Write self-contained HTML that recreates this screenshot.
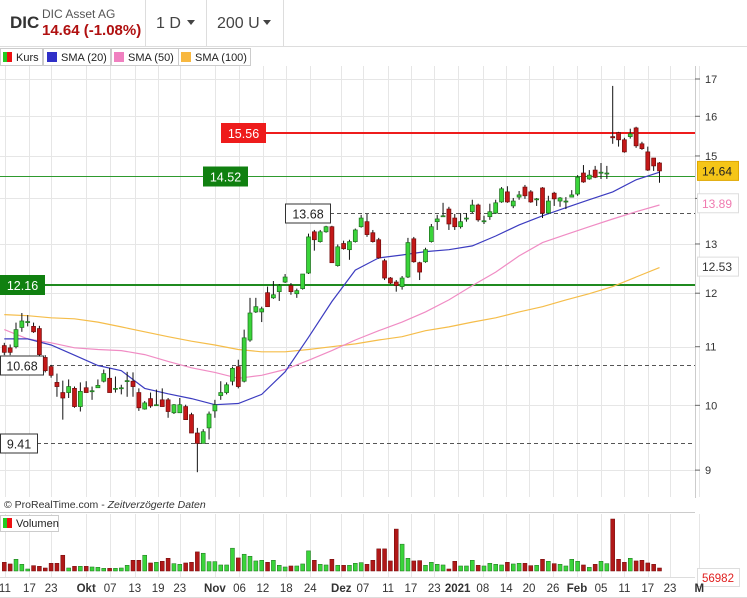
<!DOCTYPE html>
<html><head><meta charset="utf-8"><style>
html,body{margin:0;padding:0;background:#fff;width:747px;height:598px;overflow:hidden;font-family:"Liberation Sans",sans-serif}
svg text{font-family:"Liberation Sans",sans-serif}
</style></head><body>
<svg id="chart" width="747" height="598" viewBox="0 0 747 598" xmlns="http://www.w3.org/2000/svg">
<g>
<rect x="0" y="0" width="747" height="46" fill="#fff"/>
<line x1="0" y1="46.5" x2="747" y2="46.5" stroke="#ddd"/>
<text x="10" y="28" font-size="17" font-weight="bold" fill="#333">DIC</text>
<text x="42" y="18" font-size="12" fill="#555">DIC Asset AG</text>
<text x="42" y="35" font-size="15" font-weight="bold" fill="#b01010">14.64 (-1.08%)</text>
<line x1="145.5" y1="0" x2="145.5" y2="46" stroke="#ddd"/>
<line x1="206.5" y1="0" x2="206.5" y2="46" stroke="#ddd"/>
<line x1="283.5" y1="0" x2="283.5" y2="46" stroke="#ddd"/>
<g><text x="156" y="28" font-size="16" fill="#444">1 D</text><path d="M187 20 l8 0 l-4 5z" fill="#444"/></g>
<g><text x="217" y="28" font-size="16" fill="#444">200 U</text><path d="M263 20 l8 0 l-4 5z" fill="#444"/></g>
</g>
<g id="grid"></g>
<g>
<rect x="0.5" y="48.5" width="42" height="17" fill="#fff" stroke="#ccc"/>
<rect x="3" y="52" width="4" height="10" fill="#22cc22"/><rect x="7" y="52" width="5" height="10" fill="#ee1111"/>
<text x="16" y="61" font-size="11" fill="#222">Kurs</text>
<rect x="43.5" y="48.5" width="67" height="17" fill="#fff" stroke="#ccc"/>
<rect x="47" y="52" width="10" height="10" fill="#3030c8"/><text x="61" y="61" font-size="11" fill="#222">SMA (20)</text>
<rect x="111.5" y="48.5" width="67" height="17" fill="#fff" stroke="#ccc"/>
<rect x="114" y="52" width="10" height="10" fill="#f080c0"/><text x="128" y="61" font-size="11" fill="#222">SMA (50)</text>
<rect x="178.5" y="48.5" width="72" height="17" fill="#fff" stroke="#ccc"/>
<rect x="181" y="52" width="10" height="10" fill="#f8b840"/><text x="195" y="61" font-size="11" fill="#222">SMA (100)</text>
</g>
<g id="levels"></g>
<g id="smas"></g>
<g id="candles"></g>
<g id="yaxis"></g>
<line x1="0" y1="512.5" x2="695" y2="512.5" stroke="#ccc"/>
<text x="4" y="508" font-size="10.5" fill="#333">© ProRealTime.com - <tspan font-style="italic">Zeitverzögerte Daten</tspan></text>
<g>
<rect x="0.5" y="515.5" width="58" height="16" fill="#fff" stroke="#ccc"/>
<rect x="3" y="518" width="4" height="10" fill="#22cc22"/><rect x="7" y="518" width="5" height="10" fill="#ee1111"/>
<text x="16" y="527" font-size="11" fill="#222">Volumen</text>
</g>
<g id="volume"></g>
<g>
<rect x="697.5" y="568.5" width="42" height="18" fill="#fff" stroke="#ddd"/>
<text x="702" y="582" font-size="11.5" fill="#e02020">56982</text>
</g>
<g id="xaxis"></g>
</svg>
<script>
const opens=[11.02,10.98,11.00,11.35,11.44,11.37,11.33,10.81,10.65,10.38,10.21,10.21,10.28,9.98,10.29,10.24,10.29,10.40,10.45,10.28,10.29,10.41,10.40,10.21,9.94,10.11,10.01,10.09,10.09,9.88,9.88,9.98,9.85,9.56,9.40,9.64,9.91,10.16,10.21,10.40,10.65,10.40,11.12,11.64,11.64,12.01,11.91,12.03,12.22,12.15,11.99,12.09,12.40,13.26,13.05,13.26,13.37,12.55,13.01,12.88,13.05,13.37,13.48,13.24,13.09,12.65,12.30,12.22,12.13,12.32,13.11,12.61,12.63,13.05,13.48,13.61,13.76,13.56,13.37,13.56,13.70,13.85,13.50,13.59,13.67,13.92,14.15,13.83,14.03,14.26,14.15,13.99,14.24,13.67,14.12,13.94,13.94,14.03,14.10,14.59,14.45,14.66,14.61,14.59,15.48,15.58,15.40,15.48,15.70,15.30,15.10,14.95,14.83];
const closes=[10.90,10.90,11.31,11.47,11.46,11.27,10.86,10.58,10.50,10.31,10.12,10.31,9.98,10.23,10.21,10.24,10.33,10.53,10.21,10.28,10.29,10.41,10.31,9.96,10.04,9.99,10.01,9.98,9.90,10.01,10.01,9.77,9.56,9.40,9.58,9.86,10.01,10.21,10.34,10.62,10.31,11.16,11.62,11.74,11.70,11.74,11.97,12.15,12.32,12.03,12.05,12.38,13.15,13.09,13.26,13.37,12.61,12.94,12.90,13.05,13.30,13.56,13.20,13.05,12.71,12.30,12.20,12.15,12.30,13.03,12.63,12.42,12.88,13.37,13.54,13.61,13.43,13.37,13.48,13.56,13.85,13.52,13.50,13.70,13.90,14.22,13.92,13.94,14.08,14.06,13.92,13.99,13.67,13.94,13.99,14.01,13.94,14.08,14.49,14.38,14.54,14.49,14.61,14.59,15.45,15.40,15.10,15.55,15.25,15.18,14.66,14.76,14.64];
const highs=[11.07,11.04,11.44,11.62,11.58,11.44,11.38,10.85,10.68,10.53,10.41,10.43,10.31,10.38,10.40,10.31,10.43,10.60,10.63,10.48,10.34,10.56,10.55,10.28,10.07,10.21,10.26,10.28,10.12,10.02,10.12,10.01,9.88,9.64,9.62,9.90,10.09,10.40,10.38,10.65,10.77,11.31,11.91,11.91,11.74,12.13,12.24,12.18,12.38,12.20,12.09,12.38,13.22,13.30,13.30,13.39,13.39,12.99,13.07,13.09,13.33,13.63,13.65,13.30,13.13,12.69,12.32,12.26,12.34,13.13,13.15,12.63,12.92,13.43,13.63,13.90,13.81,13.65,13.67,13.67,13.97,13.88,13.61,13.88,13.97,14.26,14.28,14.01,14.17,14.31,14.19,14.01,14.26,14.06,14.15,14.03,14.03,14.19,14.54,14.78,14.66,14.76,14.83,14.76,16.81,15.60,15.45,15.68,15.73,15.35,15.23,14.95,14.85];
const lows=[10.85,10.85,10.97,11.27,11.37,11.25,10.83,10.55,10.46,10.14,9.77,10.12,9.96,9.90,10.21,10.09,10.29,10.38,10.21,10.21,10.18,10.14,10.14,9.91,9.93,9.96,9.99,9.98,9.80,9.86,9.88,9.77,9.56,8.97,9.40,9.46,9.80,10.09,10.18,10.33,10.28,10.38,11.09,11.62,11.45,11.74,11.89,11.85,12.20,11.97,11.91,12.07,12.38,12.86,13.03,13.24,12.61,12.53,12.88,12.67,13.03,13.35,13.15,13.03,12.69,12.26,12.18,12.03,12.07,12.30,12.61,12.26,12.61,13.03,13.30,13.59,13.30,13.30,13.33,13.48,13.67,13.48,13.43,13.52,13.65,13.90,13.90,13.78,13.97,13.99,13.90,13.83,13.56,13.65,13.83,13.81,13.76,14.03,14.06,14.36,14.43,14.47,14.45,14.45,15.30,15.23,15.08,15.43,15.20,15.15,14.64,14.64,14.36];
const volumes=[26,21,35,20,6,16,14,9,23,23,47,9,14,14,14,12,11,8,8,8,9,17,32,32,47,24,26,29,38,22,20,24,26,57,53,28,28,18,18,68,39,50,44,30,32,26,32,17,12,15,15,21,60,32,20,18,35,17,17,17,23,25,20,32,66,66,30,125,80,38,30,31,17,26,20,18,6,29,15,15,32,17,15,23,20,18,26,21,23,23,16,17,35,29,22,20,15,35,29,18,11,20,29,22,155,35,26,38,30,32,24,20,9];
// SMA samples every 4th candle
const sma20=[11.14,11.14,11.03,10.85,10.67,10.58,10.28,10.19,10.11,10.01,10.03,10.18,10.56,11.17,11.84,12.46,12.71,12.77,12.84,12.88,12.96,13.17,13.41,13.61,13.79,13.97,14.15,14.43,14.61];
const sma50=[11.31,11.14,11.07,10.98,10.95,10.93,10.86,10.74,10.63,10.55,10.45,10.50,10.60,10.76,10.93,11.12,11.29,11.45,11.64,11.87,12.15,12.42,12.75,13.03,13.20,13.37,13.54,13.70,13.85];
const sma100=[11.59,11.57,11.53,11.51,11.45,11.36,11.27,11.18,11.10,11.03,10.95,10.91,10.91,10.95,11.00,11.05,11.12,11.18,11.29,11.36,11.45,11.53,11.64,11.74,11.87,11.99,12.13,12.32,12.51];
const priceTicks=[9,10,11,12,13,14,15,16,17];
const xLabels=["11","17","23","Okt","07","13","19","23","Nov","06","12","18","24","Dez","07","11","17","23","2021","08","14","20","26","Feb","05","11","17","23","M"];
const xLabelIdx=[0.1,4.3,8,14,18.1,22.3,26.3,30,36,40.2,44.2,48.2,52.3,57.6,61.3,65.6,69.5,73.5,77.5,81.8,85.8,89.7,93.8,97.9,102,106,110,113.8,118.8];
const levels=[15.56,14.52,13.68,12.16,10.68,9.41];

const NS="http://www.w3.org/2000/svg";
function mk(tag,attrs,parent){const e=document.createElementNS(NS,tag);for(const k in attrs)e.setAttribute(k,attrs[k]);parent.appendChild(e);return e;}
function xs(i){return 4.3+i*5.85;}
function ys(p){return 79+615*(Math.log(17)-Math.log(p));}
const volBase=571, volMax=155, volH=52;
function yv(v){return volBase-v/volMax*volH;}

const grid=document.getElementById('grid');
xLabelIdx.forEach((ix,k)=>{const x=Math.round(xs(ix))+0.5;
 const gl=mk('line',{x1:x,y1:66,x2:x,y2:497,stroke:'#e6e6e6'},grid);
 
 
 mk('line',{x1:x,y1:514,x2:x,y2:577,stroke:'#e6e6e6'},grid);
});
priceTicks.forEach(p=>{const y=Math.round(ys(p))+0.5;
 const gl=mk('line',{x1:0,y1:y,x2:695,y2:y,stroke:'#e6e6e6'},grid);
 
 
});
mk('line',{x1:0,y1:577.5,x2:695,y2:577.5,stroke:'#ddd'},grid);

// levels
const lv=document.getElementById('levels');
function lvl(p,color,w,dash,x1,boxX,boxW,fill,txtColor,border){
 const y=Math.round(ys(p))+(w===1?0.5:0);
 const l=mk('line',{x1:x1,y1:y,x2:695,y2:y,stroke:color,'stroke-width':w},lv);
 if(dash)l.setAttribute('stroke-dasharray',dash);
 
 
 const b=mk('rect',{x:boxX+0.5,y:y-9.5,width:boxW,height:19,fill:fill,stroke:border},lv);
 
 
 const t=mk('text',{x:boxX+boxW/2+0.5,y:y+5,'font-size':12.5,fill:txtColor,'text-anchor':'middle'},lv);
 t.textContent=p.toFixed(2);
}
lvl(levels[0],'#ee1c1c',2,null,265,221,44,'#ee1c1c','#fff','#ee1c1c');
lvl(levels[1],'#2e9a2e',1,null,0,203,44,'#108010','#fff','#108010');
lvl(levels[2],'#555',1,'4,3',330,285,45,'#fff','#222','#333');
lvl(levels[3],'#1f8a1f',2,null,0,0,44,'#108010','#fff','#108010');
lvl(levels[4],'#555',1,'4,3',43,0,43,'#fff','#222','#333');
lvl(levels[5],'#555',1,'4,3',37,0,37,'#fff','#222','#333');

// SMAs
const sg=document.getElementById('smas');
function smaLine(arr,color,name){
 const pts=arr.map((v,k)=>xs(k*4).toFixed(1)+','+ys(v).toFixed(1)).join(' ');
 const pl=mk('polyline',{points:pts,fill:'none',stroke:color,'stroke-width':1.2},sg);
 
 
}
smaLine(sma100,'#f5bd4a','sma-100-line');
smaLine(sma50,'#f08cc4','sma-50-line');
smaLine(sma20,'#3c3cc0','sma-20-line');

// candles
const cg=document.getElementById('candles');
opens.forEach((o,i)=>{const c=closes[i],x=xs(i);const up=c>=o;
 const g=mk('g',{},cg);
 
 
 mk('line',{x1:x,y1:ys(highs[i]),x2:x,y2:ys(lows[i]),stroke:'#111','stroke-width':1},g);
 const top=ys(Math.max(o,c)),bot=ys(Math.min(o,c));
 mk('rect',{x:x-2,y:top,width:4,height:Math.max(bot-top,1),fill:up?'#3ad43a':'#c41818',stroke:up?'#1d6e1d':'#6e0c0c','stroke-width':0.7},g);
});

// y axis
const ya=document.getElementById('yaxis');
mk('line',{x1:695.5,y1:66,x2:695.5,y2:498,stroke:'#ccc'},ya);
priceTicks.forEach(p=>{const y=ys(p);
 mk('line',{x1:695,y1:y,x2:700,y2:y,stroke:'#666'},ya);
 const t=mk('text',{x:705,y:y+4,'font-size':11,fill:'#333'},ya);
 
 
 t.textContent=String(p);
});
function tag(p,fill,color,border){const y=ys(p);
 const r=mk('rect',{x:697.5,y:y-9.5,width:41,height:19,fill:fill,stroke:border},ya);
 
 
 const t=mk('text',{x:702,y:y+4.5,'font-size':12,fill:color},ya);t.textContent=p.toFixed(2);}
tag(closes[closes.length-1],'#f5c518','#222','#e0a800');
tag(sma50[sma50.length-1]+0.04,'#fff','#f07ab0','#ddd');
tag(sma100[sma100.length-1]+0.02,'#fff','#333','#ddd');

// volume
const vg=document.getElementById('volume');
volumes.forEach((v,i)=>{const up=closes[i]>=opens[i];const x=xs(i);
 const r=mk('rect',{x:x-2,y:yv(v),width:4,height:volBase-yv(v),fill:up?'#3ad43a':'#b01818',stroke:up?'#1d6e1d':'#6e0c0c','stroke-width':0.5},vg);
 
 
});

// x axis
const xa=document.getElementById('xaxis');
mk('line',{x1:0,y1:597.5,x2:747,y2:597.5,stroke:'#ddd'},xa);
xLabels.forEach((s,k)=>{const bold=/[A-Za-z]/.test(s)||s==="2021";
 const t=mk('text',{x:xs(xLabelIdx[k]),y:592,'font-size':11.5,fill:'#333','text-anchor':'middle','font-weight':bold?'bold':'normal'},xa);
 
 
 t.textContent=s;
});
</script>
</body></html>
